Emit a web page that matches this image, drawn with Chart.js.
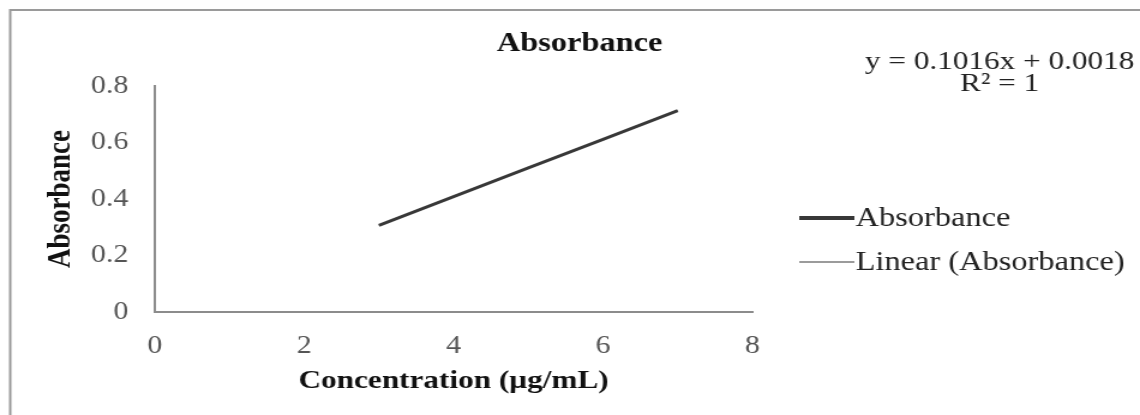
<!DOCTYPE html>
<html>
<head>
<meta charset="utf-8">
<script src="https://cdn.jsdelivr.net/npm/chart.js@4"></script>
<style>
  body { margin: 0; background: #fff; overflow: hidden; }
  #wrap { width: 1140px; height: 415px; overflow: hidden; }
  /* the source picture is stretched sideways, so the canvas is too */
  #chart { transform: scaleX(1.2); transform-origin: 0 0; }
</style>
</head>
<body>
<div id="wrap"><canvas id="chart" width="950" height="415"></canvas></div>
<script>
// Absorbance readings
const concentration = [3, 4, 5, 6, 7];
const absorbance = [0.3066, 0.4082, 0.5098, 0.6114, 0.713];

// Linear trendline (Excel)
const trendX = [3, 7];
const trendY = [0.3066, 0.713];
const equationLines = ['y = 0.1016x + 0.0018', 'R\u00B2 = 1'];

const xTicks = [0, 2, 4, 6, 8];
const yTicks = [0, 0.2, 0.4, 0.6, 0.8];

const serif = "'Liberation Serif', 'Times New Roman', serif";

const extras = {
  id: 'extras',
  afterDraw(chart) {
    const ctx = chart.ctx;
    ctx.save();
    // outer frame
    ctx.strokeStyle = '#9a9a9a';
    ctx.lineWidth = 2;
    ctx.strokeRect(8.5, 10, 2000, 1000);

    ctx.fillStyle = '#111';
    ctx.textAlign = 'center';
    ctx.textBaseline = 'middle';
    ctx.font = 'bold 27px ' + serif;
    ctx.fillText('Absorbance', 483, 44);

    ctx.fillStyle = '#222';
    ctx.font = '26px ' + serif;
    ctx.fillText(equationLines[0], 833, 62);
    ctx.fillText(equationLines[1], 833, 84);

    // legend
    ctx.textAlign = 'left';
    ctx.font = '27px ' + serif;
    const rows = [218, 262];
    chart.data.datasets.forEach((ds, i) => {
      const y = rows[i];
      ctx.strokeStyle = ds.borderColor;
      ctx.lineWidth = ds.legendWidth;
      ctx.beginPath();
      ctx.moveTo(666, y);
      ctx.lineTo(712, y);
      ctx.stroke();
      ctx.fillStyle = '#222';
      ctx.fillText(ds.label, 713, y + 1);
    });
    ctx.restore();
  }
};

new Chart(document.getElementById('chart'), {
  type: 'scatter',
  data: {
    datasets: [
      {
        label: 'Absorbance',
        data: concentration.map((x, i) => ({ x: x, y: absorbance[i] })),
        showLine: true,
        borderColor: '#383838',
        borderWidth: 3,
        legendWidth: 4,
        pointRadius: 0,
        order: 1
      },
      {
        label: 'Linear (Absorbance)',
        data: trendX.map((x, i) => ({ x: x, y: trendY[i] })),
        showLine: true,
        borderColor: '#7a7a7a',
        borderWidth: 1,
        legendWidth: 1.5,
        pointRadius: 0,
        order: 2
      }
    ]
  },
  options: {
    responsive: false,
    animation: false,
    layout: { padding: { left: 0, top: 86, right: 323, bottom: 0 } },
    plugins: {
      legend: { display: false },
      title: { display: false },
      tooltip: { enabled: false }
    },
    scales: {
      x: {
        type: 'linear',
        min: 0,
        max: 8,
        afterFit: s => { s.height = 103; },
        afterBuildTicks: s => { s.ticks = xTicks.map(v => ({ value: v })); },
        grid: { display: false, drawTicks: false },
        border: { display: true, color: '#8c8c8c', width: 2 },
        ticks: { padding: 19, color: '#555', font: { family: serif, size: 25 } },
        title: {
          display: true,
          text: 'Concentration (\u00B5g/mL)',
          color: '#111',
          font: { family: serif, size: 26, weight: 'bold' },
          padding: { top: 0, bottom: 18 }
        }
      },
      y: {
        min: 0,
        max: 0.8,
        afterFit: s => { s.width = 129; },
        afterBuildTicks: s => { s.ticks = yTicks.map(v => ({ value: v })); },
        grid: { display: false, drawTicks: false },
        border: { display: true, color: '#8c8c8c', width: 2 },
        ticks: {
          padding: 22,
          color: '#555',
          font: { family: serif, size: 25 },
          callback: v => (v === 0 ? '0' : v.toFixed(1))
        },
        title: {
          display: true,
          text: 'Absorbance',
          color: '#111',
          font: { family: serif, size: 27, weight: 'bold' },
          padding: { top: 35, bottom: 0 }
        }
      }
    }
  },
  plugins: [extras]
});
</script>
</body>
</html>
